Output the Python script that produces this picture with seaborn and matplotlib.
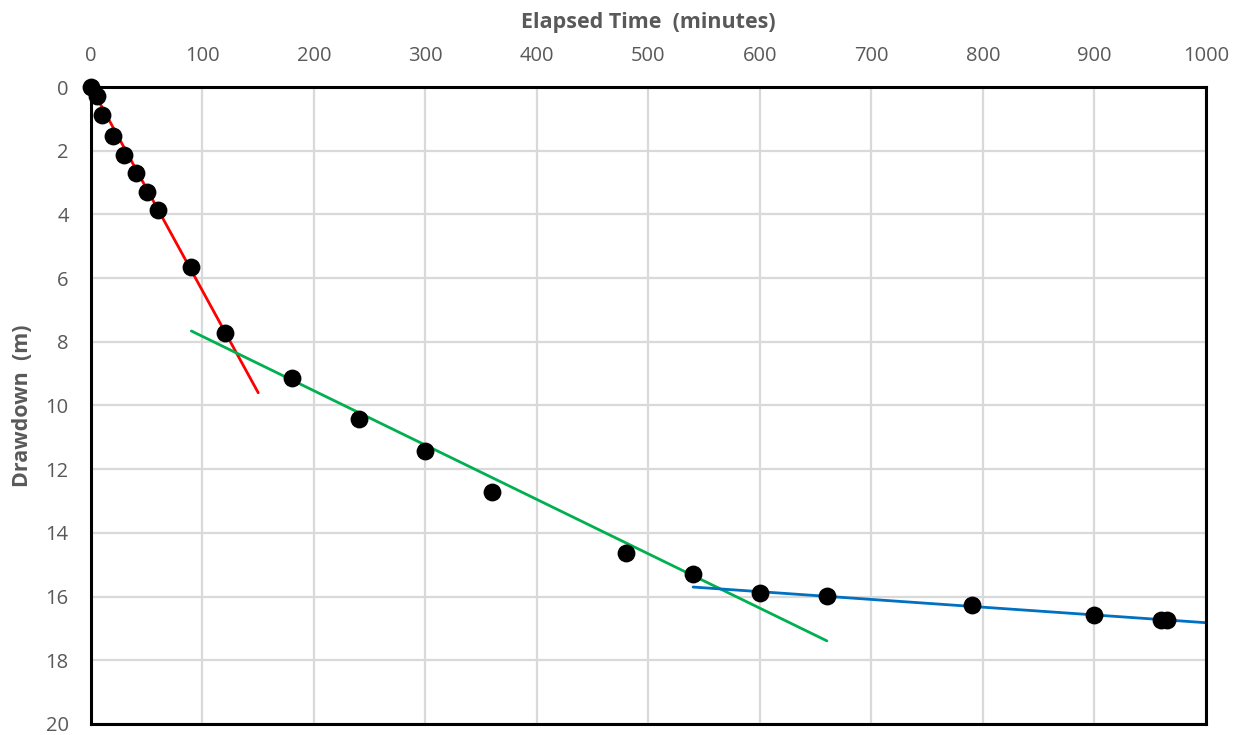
import matplotlib
matplotlib.use("Agg")
import pandas as pd
import seaborn as sns
from matplotlib import pyplot as plt

# observed drawdown
elapsed_min = [0, 5, 10, 20, 30, 40, 50, 60, 90, 120, 180, 240, 300, 360, 480, 540, 600, 660, 790, 900, 960, 965]
drawdown_m = [0.0, 0.28, 0.88, 1.54, 2.13, 2.70, 3.30, 3.86, 5.65, 7.72, 9.14, 10.42, 11.43, 12.72,
              14.63, 15.29, 15.89, 15.98, 16.26, 16.58, 16.73, 16.73]

# fitted straight-line segments
red_t = [0, 150]
red_d = [0.0, 9.6]
green_t = [90, 660]
green_d = [7.66, 17.39]
blue_t = [540, 1000]
blue_d = [15.70, 16.82]

sns.set_theme(style="white")
plt.rcParams['font.family'] = ['Open Sans', 'DejaVu Sans']

fig = plt.figure(figsize=(12.43, 7.35), dpi=100)
ax = fig.add_axes([0.0732, 0.015, 0.897, 0.8666])

grid_c = '#d9d9d9'
ax.set_xticks(range(0, 1001, 100))
ax.set_yticks(range(0, 21, 2))
ax.grid(True, color=grid_c, linewidth=1.6)
ax.set_axisbelow(True)

sns.lineplot(x=red_t, y=red_d, color='#ff0000', linewidth=2, ax=ax)
sns.lineplot(x=green_t, y=green_d, color='#00b050', linewidth=2, ax=ax)
sns.lineplot(x=blue_t, y=blue_d, color='#0070c0', linewidth=2, ax=ax)
sns.scatterplot(x=elapsed_min, y=drawdown_m, color='black', s=165, edgecolor='black', linewidth=0,
                ax=ax, zorder=5, clip_on=False)

ax.set_xlim(0, 1000)
ax.set_ylim(20, 0)
ax.xaxis.tick_top()
ax.xaxis.set_label_position('top')
ax.tick_params(axis='both', length=0, labelsize=14.5, labelcolor='#595959')
ax.tick_params(axis='x', pad=15)
ax.tick_params(axis='y', pad=16)

for s in ax.spines.values():
    s.set_color('black')
    s.set_linewidth(2.2)

ax.set_xlabel('Elapsed Time  (minutes)', fontsize=15.5, fontweight='bold', color='#595959', va='center')
ax.set_ylabel('Drawdown  (m)', fontsize=15.5, fontweight='bold', color='#595959', va='center')
ax.xaxis.set_label_coords(0.5, 1.102)
ax.yaxis.set_label_coords(-0.061, 0.5)

fig.savefig('out.png', dpi=100)
